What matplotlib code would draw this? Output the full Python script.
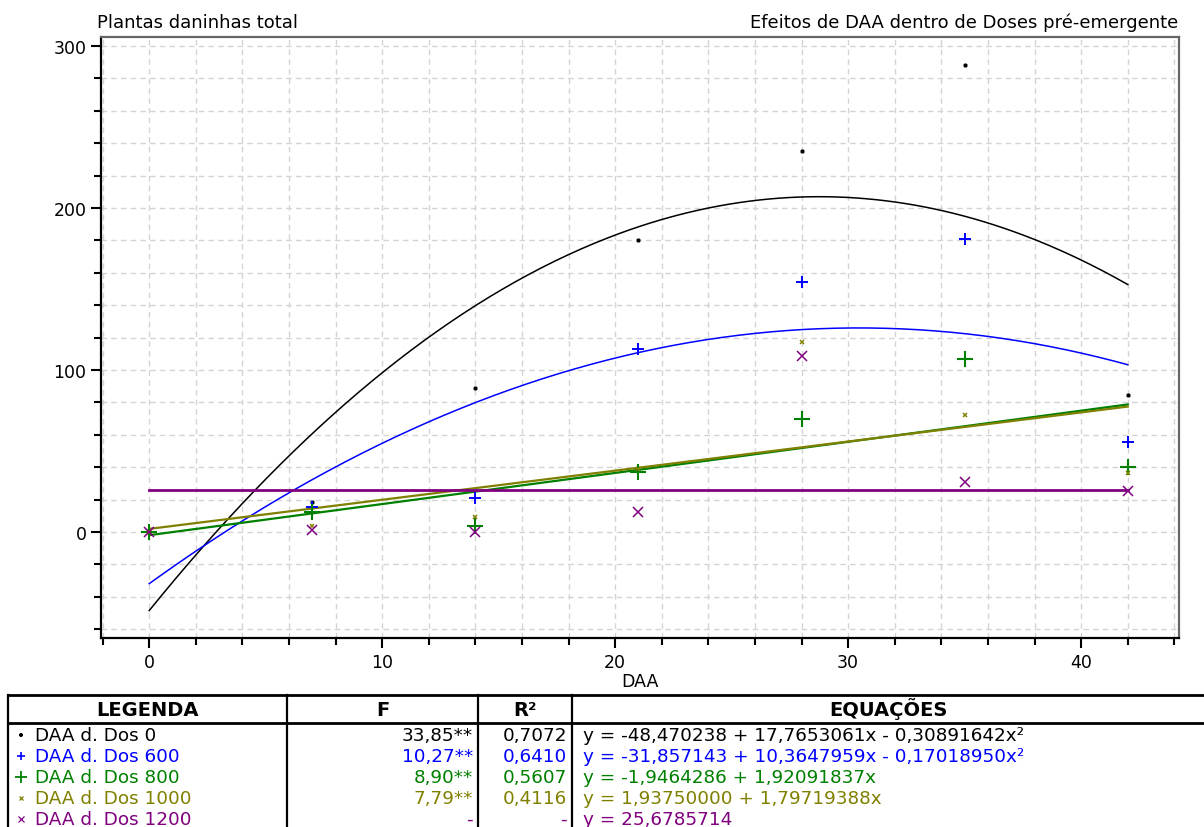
import numpy as np
import matplotlib
matplotlib.use("Agg")
import matplotlib.pyplot as plt
from matplotlib.ticker import MultipleLocator

# ---- data ----
daa = [0, 7, 14, 21, 28, 35, 42]
dos0 = [0, 18.3, 89, 180, 235, 288, 84.8]
dos600 = [0, 15.6, 20.8, 113, 154, 181, 55.7]
dos800 = [0, 12.3, 3.5, 36.8, 69.8, 106.8, 40.0]
dos1000 = [0, 3.5, 9.5, 38.9, 117.5, 72.2, 36.2]
dos1200 = [0, 1.4, 0, 12.1, 108.8, 31.0, 25.5]

# fitted equation coefficients (c0, c1, c2)
coef0 = [-48.470238, 17.7653061, -0.30891642]
coef600 = [-31.857143, 10.3647959, -0.17018950]
coef800 = [-1.9464286, 1.92091837, 0.0]
coef1000 = [1.93750000, 1.79719388, 0.0]
coef1200 = [25.6785714, 0.0, 0.0]

legend_labels = ["DAA d. Dos 0", "DAA d. Dos 600", "DAA d. Dos 800",
                 "DAA d. Dos 1000", "DAA d. Dos 1200"]
f_values = ["33,85**", "10,27**", "8,90**", "7,79**", "-"]
r2_values = ["0,7072", "0,6410", "0,5607", "0,4116", "-"]
equations = ["y = -48,470238 + 17,7653061x - 0,30891642x²",
             "y = -31,857143 + 10,3647959x - 0,17018950x²",
             "y = -1,9464286 + 1,92091837x",
             "y = 1,93750000 + 1,79719388x",
             "y = 25,6785714"]

colors = ["#000000", "#0000ff", "#008000", "#808000", "#800080"]
markers = ["+", "+", "+", "x", "x"]
msizes = [3.5, 8, 11, 3.5, 7]
mews = [1.9, 1.4, 1.5, 1.1, 1.1]
lws = [1.1, 1.1, 1.6, 1.6, 2.0]
series = [dos0, dos600, dos800, dos1000, dos1200]
coefs = [coef0, coef600, coef800, coef1000, coef1200]

W, H = 1204, 828
fig = plt.figure(figsize=(W / 100, H / 100), dpi=100)
plt.rcParams['font.family'] = ['DejaVu Sans']

L, R, T, B = 101, 1179, 38, 639
ax = fig.add_axes([L / W, 1 - B / H, (R - L) / W, (B - T) / H])

ax.set_xlim(-2.07, 44.2)
ax.set_ylim(-65.4, 305.5)
ax.xaxis.set_major_locator(MultipleLocator(10))
ax.xaxis.set_minor_locator(MultipleLocator(2))
ax.yaxis.set_major_locator(MultipleLocator(100))
ax.yaxis.set_minor_locator(MultipleLocator(20))
ax.grid(True, which='both', color='#d4d4d4', linestyle=(0, (4, 3)), linewidth=1.0)
ax.set_axisbelow(True)
ax.tick_params(which='both', direction='out', length=7, width=1.5, color='black',
               labelsize=12.5)
ax.tick_params(which='minor', length=5)
for s in ['left', 'bottom']:
    ax.spines[s].set_linewidth(1.6)
    ax.spines[s].set_color('black')
for s in ['top', 'right']:
    ax.spines[s].set_linewidth(1.6)
    ax.spines[s].set_color('#666666')

xs = np.linspace(min(daa), max(daa), 300)
for ys, c, m, ms, mew, lw, cf in zip(series, colors, markers, msizes, mews, lws, coefs):
    yfit = cf[0] + cf[1] * xs + cf[2] * xs ** 2
    ax.plot(xs, yfit, color=c, lw=lw, zorder=2)
    ax.plot(daa, ys, linestyle='none', marker=m, color=c, markersize=ms,
            markeredgewidth=mew, zorder=3)

ax.set_xlabel("DAA", fontsize=12.5, labelpad=1)

fig.text(97 / W, 1 - 23 / H, "Plantas daninhas total", fontsize=13, ha='left', va='center')
fig.text(1178 / W, 1 - 23 / H, "Efeitos de DAA dentro de Doses pré-emergente",
         fontsize=13, ha='right', va='center')

# ---- table ----
tax = fig.add_axes([0, 0, 1, 1], facecolor='none')
tax.set_xlim(0, W)
tax.set_ylim(H, 0)
tax.axis('off')
x0, c1, c2, c3, x4 = 8, 287, 478, 572, 1204
ytop, yhead = 696, 724
for yy in [ytop, yhead]:
    tax.plot([x0, x4], [yy, yy], color='black', lw=2.0)
for xx in [x0, c1, c2, c3]:
    tax.plot([xx, xx], [ytop, H], color='black', lw=1.6)
yh = 716
hfs = 14
tax.text((x0 + c1) / 2, yh, "LEGENDA", fontsize=hfs, fontweight='bold', ha='center', va='baseline')
tax.text((c1 + c2) / 2, yh, "F", fontsize=hfs, fontweight='bold', ha='center', va='baseline')
tax.text((c2 + c3) / 2, yh, "R²", fontsize=hfs, fontweight='bold', ha='center', va='baseline')
tax.text((c3 + x4) / 2, yh, "EQUAÇÕES", fontsize=hfs, fontweight='bold', ha='center', va='baseline')

row_y0, row_dy = 736, 21
tfs = 13.2
for i in range(5):
    yy = row_y0 + i * row_dy
    tax.plot([21], [yy], marker=markers[i], color=colors[i], markersize=[3, 6, 9, 3, 5][i],
             markeredgewidth=[1.6, 1.2, 1.3, 0.9, 0.9][i], linestyle='none')
    tax.text(35, yy, legend_labels[i], color=colors[i], fontsize=tfs, ha='left', va='center')
    tax.text(c2 - 5, yy, f_values[i], color=colors[i], fontsize=tfs, ha='right', va='center')
    tax.text(c3 - 5, yy, r2_values[i], color=colors[i], fontsize=tfs, ha='right', va='center')
    tax.text(c3 + 11, yy, equations[i], color=colors[i], fontsize=tfs, ha='left', va='center')

fig.savefig("out.png", dpi=100, facecolor='white')
